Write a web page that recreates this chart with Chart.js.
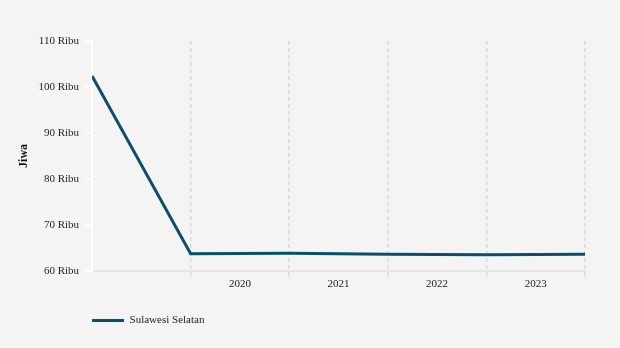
<!DOCTYPE html>
<html>
<head>
<meta charset="utf-8">
<script src="https://cdn.jsdelivr.net/npm/chart.js@4"></script>
<style>
  html, body { margin: 0; padding: 0; background: #f4f4f4; }
  #wrap { width: 620px; height: 348px; }
</style>
</head>
<body>
<div id="wrap"><canvas id="myChart"></canvas></div>
<script>
// Penduduk Sulawesi Selatan (Jiwa, ribuan)
const seriesName = 'Sulawesi Selatan';
const points = [0, 1, 2, 3, 4, 5];                       // x positions of the data points
const values = [102.4, 63.7, 63.8, 63.6, 63.5, 63.6];   // ribu jiwa
const yearLabels = ['2020', '2021', '2022', '2023'];     // shown between grid lines 1..5

const FONT = 'Liberation Serif';
const lineColor = '#0b5069';
const legendPad = 23;

// move the legend so it lines up with the left edge of the plot
const legendAlign = {
    id: 'legendAlign',
    afterLayout(chart) {
        if (chart.legend) {
            chart.legend.left = chart.chartArea.left - legendPad;
        }
    }
};

const ctx = document.getElementById('myChart');
const myChart = new Chart(ctx, {
    type: 'line',
    data: {
        datasets: [{
            label: seriesName,
            data: points.map((p, i) => ({ x: p, y: values[i] })),
            borderColor: lineColor,
            backgroundColor: lineColor,
            borderWidth: 3,
            pointRadius: 0,
            tension: 0
        }]
    },
    options: {
        responsive: true,
        maintainAspectRatio: false,
        animation: false,
        layout: {
            padding: { left: 17, right: 35, top: 41, bottom: 12 }
        },
        scales: {
            x: {
                type: 'linear',
                min: 0,
                max: 5,
                afterBuildTicks: axis => { axis.ticks = points.map(v => ({ value: v })); },
                grid: {
                    color: ctx => ctx.tick && ctx.tick.value === 0 ? 'rgba(0,0,0,0)' : '#dadada',
                    lineWidth: 1.5,
                    tickLength: 6
                },
                border: { color: '#e4e4e4', width: 2, dash: [4, 3] },   // dash applies to grid lines
                ticks: {
                    padding: 1,
                    labelOffset: 0,            // set after first layout: half a step
                    color: '#222',
                    font: { family: FONT, size: 11 },
                    callback: v => (v >= 1 && v <= yearLabels.length) ? yearLabels[v - 1] : ''
                }
            },
            y: {
                min: 60,
                max: 110,
                ticks: {
                    stepSize: 10,
                    padding: 7,
                    color: '#222',
                    font: { family: FONT, size: 11 },
                    callback: v => v + ' Ribu'
                },
                grid: {
                    drawOnChartArea: false,
                    color: '#ffffff',
                    lineWidth: 2,
                    tickLength: 6
                },
                border: { color: '#ffffff', width: 2 },
                title: {
                    display: true,
                    text: 'Jiwa',
                    color: '#111',
                    font: { family: FONT, size: 12, weight: 'bold' },
                    padding: { top: 0, bottom: 0 }
                }
            }
        },
        plugins: {
            legend: {
                position: 'bottom',
                align: 'start',
                labels: {
                    boxWidth: 32,
                    boxHeight: 3,
                    padding: legendPad,
                    color: '#222',
                    font: { family: FONT, size: 11 },
                    generateLabels: chart => Chart.defaults.plugins.legend.labels.generateLabels(chart)
                        .map(l => ({ ...l, lineWidth: 0 }))
                }
            },
            tooltip: { enabled: false }
        }
    },
    plugins: [legendAlign]
});

// put the year labels half way between the grid lines
const xs = myChart.scales.x;
myChart.options.scales.x.ticks.labelOffset = (xs.getPixelForValue(1) - xs.getPixelForValue(0)) / 2;
myChart.update();
</script>
</body>
</html>
